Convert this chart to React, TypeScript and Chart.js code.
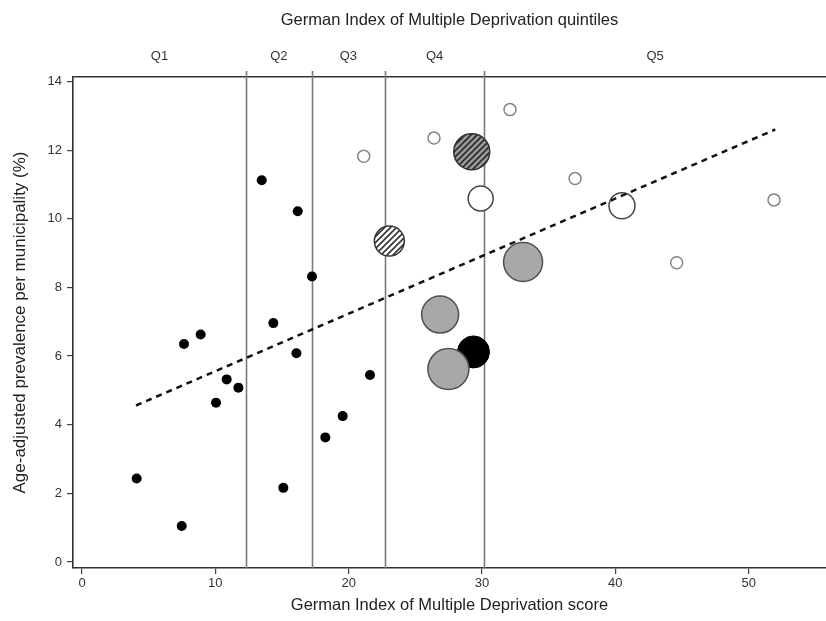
import React, { useEffect, useRef } from "react";
import { Chart, registerables } from "chart.js";

Chart.register(...registerables);

// ---- data ----
const xTickValues = [0, 10, 20, 30, 40, 50];
const yTickValues = [0, 2, 4, 6, 8, 10, 12, 14];
const quintileLabels = ["Q1", "Q2", "Q3", "Q4", "Q5"];
const quintileBounds = [12.3, 17.23, 22.73, 30.16];

const blackDotX = [4.1, 7.48, 7.65, 8.9, 10.05, 10.85, 11.73, 13.48, 14.35, 15.1, 16.08, 16.18, 17.25, 18.25, 19.55, 21.6];
const blackDotY = [2.43, 1.05, 6.35, 6.63, 4.64, 5.32, 5.08, 11.12, 6.96, 2.16, 6.08, 10.22, 8.32, 3.63, 4.25, 5.45];

const openDotX = [21.13, 26.4, 32.1, 36.98, 44.6, 51.9];
const openDotY = [11.82, 12.35, 13.18, 11.17, 8.72, 10.55];

const grayBubbleX = [26.86, 27.48, 33.08];
const grayBubbleY = [7.21, 5.62, 8.74];
const grayBubbleR = [18.5, 20.5, 19.5];

const whiteBubbleX = [29.9, 40.5];
const whiteBubbleY = [10.59, 10.38];
const whiteBubbleR = [12.5, 13];

const blackBubbleX = [29.36];
const blackBubbleY = [6.12];
const blackBubbleR = [16];

const hatchDarkX = [29.23];
const hatchDarkY = [11.95];
const hatchDarkR = [18];

const hatchLightX = [23.05];
const hatchLightY = [9.35];
const hatchLightR = [15];

const trendX = [4.05, 51.99];
const trendY = [4.56, 12.6];

const X_MIN = -0.675;
const X_MAX = 55.8;
const Y_MIN = -0.175;
const Y_MAX = 14.13;

function pts(xs: number[], ys: number[]) {
  return xs.map((x, i) => ({ x, y: ys[i] }));
}
function bub(xs: number[], ys: number[], rs: number[]) {
  return xs.map((x, i) => ({ x, y: ys[i], r: rs[i] }));
}

function makeHatch(bg: string, fg: string): CanvasPattern | string {
  const s = 6;
  const c = document.createElement("canvas");
  c.width = s;
  c.height = s;
  const g = c.getContext("2d");
  if (!g) return bg;
  g.fillStyle = bg;
  g.fillRect(0, 0, s, s);
  g.strokeStyle = fg;
  g.lineWidth = 1.6;
  g.beginPath();
  g.moveTo(-1, s + 1);
  g.lineTo(s + 1, -1);
  g.moveTo(-1, 1);
  g.lineTo(1, -1);
  g.moveTo(s - 1, s + 1);
  g.lineTo(s + 1, s - 1);
  g.stroke();
  const p = g.createPattern(c, "repeat");
  return p || bg;
}

const boundaryPlugin = {
  id: "quintileBounds",
  beforeDatasetsDraw(chart: any) {
    const { ctx, chartArea, scales } = chart;
    const xs = scales.x;
    ctx.save();
    ctx.strokeStyle = "#7a7a7a";
    ctx.lineWidth = 1.6;
    quintileBounds.forEach((b) => {
      const px = Math.round(xs.getPixelForValue(b)) + 0.5;
      ctx.beginPath();
      ctx.moveTo(px, chartArea.top - 6);
      ctx.lineTo(px, chartArea.bottom);
      ctx.stroke();
    });
    ctx.restore();
  },
};

export default function App() {
  const ref = useRef<HTMLCanvasElement | null>(null);

  useEffect(() => {
    if (!ref.current) return;
    Chart.defaults.font.family = "'Liberation Sans', Arial, Helvetica, sans-serif";
    const hatchDark = makeHatch("#9a9a9a", "#2a2a2a");
    const hatchLight = makeHatch("#ffffff", "#333333");

    const edges = [X_MIN, ...quintileBounds, X_MAX];
    const centers = quintileLabels.map((_, i) => (edges[i] + edges[i + 1]) / 2);

    const tickFont = { size: 13 };
    const titleFont = { size: 16.5 };

    const chart = new Chart(ref.current, {
      type: "scatter",
      data: {
        datasets: [
          {
            type: "line",
            data: pts(trendX, trendY),
            borderColor: "#111",
            borderWidth: 2.5,
            borderDash: [6, 5],
            pointRadius: 0,
            fill: false,
            order: 0,
          } as any,
          {
            data: pts(blackDotX, blackDotY),
            backgroundColor: "#000",
            borderColor: "#000",
            borderWidth: 0,
            pointRadius: 5,
            order: 5,
          },
          {
            data: pts(openDotX, openDotY),
            backgroundColor: "#fff",
            borderColor: "#858585",
            borderWidth: 1.5,
            pointRadius: 6,
            order: 5,
          },
          {
            type: "bubble",
            data: bub(blackBubbleX, blackBubbleY, blackBubbleR),
            backgroundColor: "#000",
            borderColor: "#000",
            borderWidth: 1,
            order: 4,
          } as any,
          {
            type: "bubble",
            data: bub(grayBubbleX, grayBubbleY, grayBubbleR),
            backgroundColor: "#a8a8a8",
            borderColor: "#505050",
            borderWidth: 1.5,
            order: 3,
          } as any,
          {
            type: "bubble",
            data: bub(whiteBubbleX, whiteBubbleY, whiteBubbleR),
            backgroundColor: "#fff",
            borderColor: "#444",
            borderWidth: 1.5,
            order: 3,
          } as any,
          {
            type: "bubble",
            data: bub(hatchDarkX, hatchDarkY, hatchDarkR),
            backgroundColor: hatchDark,
            borderColor: "#333",
            borderWidth: 1.5,
            order: 3,
          } as any,
          {
            type: "bubble",
            data: bub(hatchLightX, hatchLightY, hatchLightR),
            backgroundColor: hatchLight,
            borderColor: "#333",
            borderWidth: 1.5,
            order: 3,
          } as any,
        ],
      },
      options: {
        responsive: false,
        animation: false,
        devicePixelRatio: 1,
        events: [],
        layout: { padding: 0, autoPadding: false },
        plugins: {
          legend: { display: false },
          tooltip: { enabled: false },
        },
        scales: {
          x: {
            type: "linear",
            position: "bottom",
            min: X_MIN,
            max: X_MAX,
            afterBuildTicks: (s: any) => {
              s.ticks = xTickValues.map((v) => ({ value: v }));
            },
            afterFit: (s: any) => {
              s.height = 53;
              s.paddingLeft = 0;
              s.paddingRight = 0;
            },
            grid: {
              display: true,
              drawOnChartArea: false,
              drawTicks: true,
              tickLength: 6,
              color: "#444",
              lineWidth: 1.2,
            },
            border: { display: true, color: "#333", width: 1.6 },
            ticks: {
              padding: 2,
              font: tickFont,
              color: "#333",
              maxRotation: 0,
              autoSkip: false,
            },
            title: {
              display: true,
              text: "German Index of Multiple Deprivation score",
              font: titleFont,
              color: "#222",
              padding: { top: 0, bottom: 6 },
            },
          },
          xTop: {
            type: "linear",
            position: "top",
            min: X_MIN,
            max: X_MAX,
            afterBuildTicks: (s: any) => {
              s.ticks = centers.map((v) => ({ value: v }));
            },
            afterFit: (s: any) => {
              s.height = 77;
              s.paddingLeft = 0;
              s.paddingRight = 0;
            },
            grid: { display: false, drawOnChartArea: false },
            border: { display: true, color: "#333", width: 1.6 },
            ticks: {
              padding: 5,
              font: tickFont,
              color: "#333",
              maxRotation: 0,
              autoSkip: false,
              callback: (_v: any, i: number) => quintileLabels[i],
            },
            title: {
              display: true,
              text: "German Index of Multiple Deprivation quintiles",
              font: titleFont,
              color: "#222",
              padding: { top: 11, bottom: 0 },
            },
          },
          y: {
            type: "linear",
            position: "left",
            min: Y_MIN,
            max: Y_MAX,
            afterBuildTicks: (s: any) => {
              s.ticks = yTickValues.map((v) => ({ value: v }));
            },
            afterFit: (s: any) => {
              s.width = 73;
              s.paddingTop = 0;
              s.paddingBottom = 0;
            },
            grid: {
              display: true,
              drawOnChartArea: false,
              drawTicks: true,
              tickLength: 6,
              color: "#444",
              lineWidth: 1.2,
            },
            border: { display: true, color: "#333", width: 1.6 },
            ticks: {
              padding: 5,
              font: tickFont,
              color: "#333",
              autoSkip: false,
            },
            title: {
              display: true,
              text: "Age-adjusted prevalence per municipality (%)",
              font: { size: 17 },
              color: "#222",
              padding: { top: 10, bottom: 0 },
            },
          },
        },
      } as any,
      plugins: [boundaryPlugin],
    });

    return () => {
      chart.destroy();
    };
  }, []);

  return (
    <div style={{ position: "absolute", left: 0, top: 0, width: 826, height: 621, background: "#fff" }}>
      <canvas ref={ref} width={826} height={621} style={{ display: "block" }} />
    </div>
  );
}
